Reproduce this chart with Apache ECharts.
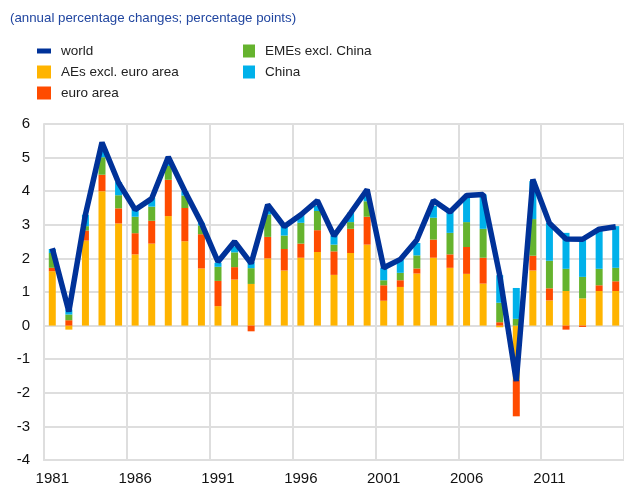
<!DOCTYPE html>
<html>
<head>
<meta charset="utf-8">
<script src="https://cdn.jsdelivr.net/npm/echarts@6/dist/echarts.min.js"></script>
<style>
    html, body {margin: 0; padding: 0; background: #fff;}
    #chart {width: 624px; height: 490px;}
</style>
</head>
<body>
<div id="chart"></div>
<script>
const years = [];
for (let y = 1981; y <= 2015; y++) {
    years.push(String(y));
}

// contributions, percentage points
const aes = [1.62, -0.12, 2.53, 4.0, 3.04, 2.12, 2.44, 3.26, 2.51, 1.70,
    0.58, 1.37, 1.24, 2.0, 1.64, 2.02, 2.19, 1.51, 2.16, 2.41,
    0.74, 1.15, 1.55, 2.02, 1.72, 1.54, 1.25, -0.05, -1.62, 1.64,
    0.75, 1.03, 0.81, 1.03, 1.03];
const euro = [0.10, 0.16, 0.30, 0.49, 0.45, 0.63, 0.68, 1.08, 0.99, 1.02,
    0.75, 0.37, -0.17, 0.64, 0.64, 0.42, 0.65, 0.70, 0.72, 0.83,
    0.46, 0.20, 0.15, 0.54, 0.40, 0.80, 0.77, 0.10, -1.08, 0.44,
    0.36, -0.12, -0.04, 0.17, 0.29];
const emes = [0.44, 0.17, 0.13, 0.52, 0.39, 0.49, 0.42, 0.41, 0.37, 0.26,
    0.42, 0.44, 0.47, 0.67, 0.40, 0.62, 0.57, 0.20, 0.20, 0.46,
    0.15, 0.22, 0.39, 0.65, 0.64, 0.74, 0.86, 0.58, 0.20, 1.09,
    0.82, 0.66, 0.64, 0.49, 0.40];
const china = [0.12, 0.15, 0.34, 0.18, 0.39, 0.24, 0.26, 0.15, 0.13, 0.08,
    0.12, 0.18, 0.18, 0.15, 0.28, 0.25, 0.15, 0.27, 0.28, 0.17,
    0.37, 0.40, 0.37, 0.35, 0.65, 0.75, 1.02, 0.82, 0.92, 1.13,
    1.13, 1.07, 1.16, 1.14, 1.24];
// annual percentage changes
const world = [2.3, 0.42, 3.3, 5.45, 4.25, 3.45, 3.78, 5.02, 4.0, 3.05,
    1.9, 2.5, 1.85, 3.6, 2.95, 3.3, 3.72, 2.67, 3.35, 4.05,
    1.72, 1.97, 2.55, 3.72, 3.38, 3.87, 3.9, 1.5, -1.65, 4.35,
    3.05, 2.58, 2.57, 2.87, 2.94];

const colors = {
    world: '#003299',
    aes: '#FFB400',
    euro: '#FF4B00',
    emes: '#65B32E',
    china: '#00B1EA',
};

const font = '"Liberation Sans", Arial, sans-serif';
const gridColor = '#dedede';

const chart = echarts.init(document.getElementById('chart'), null, {renderer: 'canvas'});

function barSeries(name, data, color) {
    return {
        name,
        type: 'bar',
        stack: 'contrib',
        data,
        barWidth: 7,
        itemStyle: {color},
        emphasis: {disabled: true},
        z: 2,
    };
}

const legendText = {
    fontFamily: font,
    fontSize: 13.5,
    color: '#222',
    lineHeight: 13,
    padding: [0, 0, 0, 5],
};

chart.setOption({
    animation: false,
    textStyle: {fontFamily: font},
    title: {
        text: '(annual percentage changes; percentage points)',
        left: 5,
        top: 7,
        textStyle: {
            fontFamily: font,
            fontSize: 13.3,
            fontWeight: 'normal',
            color: '#2146A0',
        },
    },
    legend: [{
        orient: 'vertical',
        left: 32,
        top: 39,
        itemWidth: 14,
        itemHeight: 13,
        itemGap: 7,
        selectedMode: false,
        textStyle: legendText,
        data: [
            {name: 'world', icon: 'path://M0,0h14v5h-14z'},
            {name: 'AEs excl. euro area', icon: 'rect'},
            {name: 'euro area', icon: 'rect'},
        ],
    }, {
        orient: 'vertical',
        left: 238,
        top: 39,
        itemWidth: 12,
        itemHeight: 13,
        itemGap: 7,
        selectedMode: false,
        textStyle: legendText,
        data: [
            {name: 'EMEs excl. China', icon: 'rect'},
            {name: 'China', icon: 'rect'},
        ],
    }],
    grid: {left: 44, right: 0, top: 124, bottom: 30},
    xAxis: {
        type: 'category',
        data: years,
        boundaryGap: true,
        axisLine: {onZero: false, lineStyle: {color: gridColor, width: 2}},
        axisTick: {show: false},
        axisLabel: {
            interval: 4,
            margin: 11,
            fontSize: 15,
            color: '#111',
            fontFamily: font,
        },
        splitLine: {show: true, interval: 4, lineStyle: {color: gridColor, width: 2}},
    },
    yAxis: {
        type: 'value',
        min: -4,
        max: 6,
        interval: 1,
        axisLine: {show: true, lineStyle: {color: gridColor, width: 2}},
        axisTick: {show: false},
        axisLabel: {
            margin: 14,
            fontSize: 15,
            color: '#111',
            fontFamily: font,
        },
        splitLine: {lineStyle: {color: gridColor, width: 2}},
    },
    series: [
        barSeries('AEs excl. euro area', aes, colors.aes),
        barSeries('euro area', euro, colors.euro),
        barSeries('EMEs excl. China', emes, colors.emes),
        barSeries('China', china, colors.china),
        {
            name: 'world',
            type: 'line',
            data: world,
            symbol: 'none',
            z: 5,
            lineStyle: {color: colors.world, width: 5.5},
            itemStyle: {color: colors.world},
            emphasis: {disabled: true},
        },
    ],
});
</script>
</body>
</html>
